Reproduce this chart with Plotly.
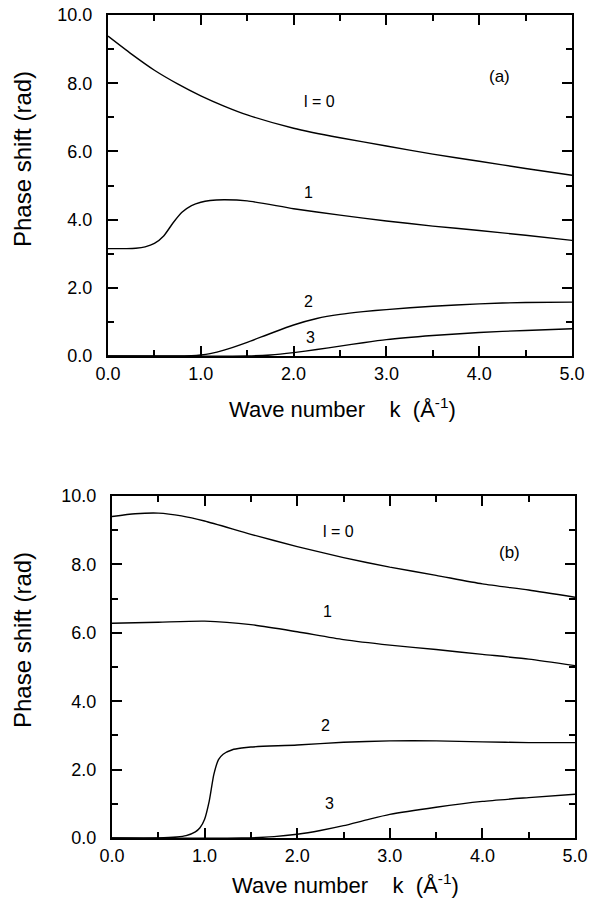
import plotly.graph_objects as go

# ---------------- data ----------------
# Panel (a)
a_l0_k = [0.0, 0.25, 0.5, 0.75, 1.0, 1.25, 1.5, 2.0, 2.5, 3.0, 3.5, 4.0, 4.5, 5.0]
a_l0_d = [9.38, 8.86, 8.38, 7.98, 7.63, 7.33, 7.07, 6.68, 6.40, 6.16, 5.92, 5.71, 5.50, 5.30]

a_l1_k = [0.0, 0.2, 0.3, 0.4, 0.5, 0.6, 0.7, 0.8, 0.9, 1.0, 1.1, 1.25, 1.5, 2.0, 2.5, 3.0, 3.5, 4.0, 4.5, 5.0]
a_l1_d = [3.15, 3.15, 3.16, 3.20, 3.30, 3.52, 3.90, 4.22, 4.41, 4.51, 4.56, 4.58, 4.55, 4.32, 4.13, 3.96, 3.81, 3.68, 3.54, 3.39]

a_l2_k = [0.0, 0.7, 0.9, 1.0, 1.1, 1.25, 1.5, 1.75, 2.0, 2.25, 2.5, 2.75, 3.0, 3.5, 4.0, 4.5, 5.0]
a_l2_d = [0.0, 0.0, 0.01, 0.03, 0.07, 0.17, 0.40, 0.66, 0.91, 1.10, 1.22, 1.30, 1.36, 1.46, 1.53, 1.57, 1.58]

a_l3_k = [0.0, 1.5, 1.75, 2.0, 2.25, 2.5, 2.75, 3.0, 3.5, 4.0, 4.5, 5.0]
a_l3_d = [0.0, 0.0, 0.03, 0.10, 0.19, 0.29, 0.39, 0.48, 0.60, 0.69, 0.75, 0.80]

# Panel (b)
b_l0_k = [0.0, 0.25, 0.5, 0.75, 1.0, 1.5, 2.0, 2.5, 3.0, 3.5, 4.0, 4.5, 5.0]
b_l0_d = [9.40, 9.48, 9.50, 9.42, 9.27, 8.88, 8.52, 8.20, 7.92, 7.68, 7.43, 7.25, 7.04]

b_l1_k = [0.0, 0.5, 1.0, 1.5, 2.0, 2.5, 3.0, 3.5, 4.0, 4.5, 5.0]
b_l1_d = [6.28, 6.31, 6.34, 6.24, 6.03, 5.80, 5.64, 5.51, 5.37, 5.23, 5.04]

b_l2_k = [0.0, 0.5, 0.7, 0.8, 0.9, 0.95, 1.0, 1.05, 1.1, 1.15, 1.2, 1.3, 1.4, 1.5, 2.0, 2.5, 3.0, 3.5, 4.0, 4.5, 5.0]
b_l2_d = [0.0, 0.0, 0.03, 0.07, 0.18, 0.30, 0.55, 1.08, 1.86, 2.29, 2.45, 2.58, 2.63, 2.66, 2.72, 2.80, 2.84, 2.84, 2.81, 2.79, 2.79]

b_l3_k = [0.0, 1.4, 1.75, 2.0, 2.25, 2.5, 2.75, 3.0, 3.5, 4.0, 4.5, 5.0]
b_l3_d = [0.0, 0.0, 0.04, 0.11, 0.22, 0.36, 0.53, 0.69, 0.90, 1.07, 1.18, 1.28]

# curve labels: (text, k, delta)
a_labels = [("l = 0", 2.28, 7.45), ("1", 2.16, 4.78), ("2", 2.16, 1.60), ("3", 2.18, 0.55), ("(a)", 4.22, 8.20)]
b_labels = [("l = 0", 2.45, 8.97), ("1", 2.33, 6.62), ("2", 2.31, 3.30), ("3", 2.35, 1.00), ("(b)", 4.29, 8.34)]

y_title = "Phase shift (rad)"
x_title = "Wave number\u00a0\u00a0\u00a0\u00a0k\u00a0\u00a0(Å<sup>-1</sup>)"

# ---------------- figure ----------------
W, H = 592, 901
FONT = "Liberation Sans, Arial, Helvetica, sans-serif"

fig = go.Figure()

for k, d in [(a_l0_k, a_l0_d), (a_l1_k, a_l1_d), (a_l2_k, a_l2_d), (a_l3_k, a_l3_d)]:
    fig.add_trace(go.Scatter(x=k, y=d, mode="lines",
                             line=dict(color="black", width=1.4, shape="spline", smoothing=0.6),
                             xaxis="x", yaxis="y", showlegend=False, hoverinfo="skip"))
for k, d in [(b_l0_k, b_l0_d), (b_l1_k, b_l1_d), (b_l2_k, b_l2_d), (b_l3_k, b_l3_d)]:
    fig.add_trace(go.Scatter(x=k, y=d, mode="lines",
                             line=dict(color="black", width=1.4, shape="spline", smoothing=0.6),
                             xaxis="x2", yaxis="y2", showlegend=False, hoverinfo="skip"))


def px_x(p):
    return p / W


def px_y(p):
    return 1 - p / H


def xaxis(domain, anchor):
    return dict(domain=domain, anchor=anchor, range=[0, 5], autorange=False,
                tickmode="linear", tick0=0, dtick=1, tickformat=".1f",
                ticks="inside", ticklen=10, tickwidth=1.5, tickcolor="#000000",
                showline=True, linecolor="#000000", linewidth=2, mirror="allticks",
                showgrid=False, zeroline=False, automargin=False,
                tickfont=dict(family=FONT, size=18, color="black"),
                minor=dict(ticks="inside", ticklen=6, dtick=0.5, tick0=0,
                           tickwidth=1.5, tickcolor="#000000", showgrid=False))


def yaxis(domain, anchor):
    return dict(domain=domain, anchor=anchor, range=[0, 10], autorange=False,
                tickmode="linear", tick0=0, dtick=2, tickformat=".1f",
                ticks="inside", ticklen=10, tickwidth=1.5, tickcolor="#000000",
                showline=True, linecolor="#000000", linewidth=2, mirror="allticks",
                showgrid=False, zeroline=False, automargin=False,
                ticksuffix="\u00a0\u00a0",
                tickfont=dict(family=FONT, size=18, color="black"),
                minor=dict(ticks="inside", ticklen=6, dtick=1, tick0=0,
                           tickwidth=1.5, tickcolor="#000000", showgrid=False))


fig.update_layout(
    template="none",
    width=W, height=H,
    margin=dict(l=0, r=0, t=0, b=0),
    paper_bgcolor="white", plot_bgcolor="white",
    font=dict(family=FONT, color="black"),
    xaxis=xaxis([px_x(108), px_x(572)], "y"),
    yaxis=yaxis([px_y(356), px_y(15)], "x"),
    xaxis2=xaxis([px_x(112), px_x(575)], "y2"),
    yaxis2=yaxis([px_y(838), px_y(496)], "x2"),
)

ann = []
for txt, kx, dy in a_labels:
    ann.append(dict(text=txt, x=kx, y=dy, xref="x", yref="y", showarrow=False,
                    font=dict(family=FONT, size=17 if txt.startswith("(") else 16, color="black")))
for txt, kx, dy in b_labels:
    ann.append(dict(text=txt, x=kx, y=dy, xref="x2", yref="y2", showarrow=False,
                    font=dict(family=FONT, size=17 if txt.startswith("(") else 16, color="black")))

# axis titles
for cy in (159, 640):
    ann.append(dict(text=y_title, x=px_x(22), y=px_y(cy), xref="paper", yref="paper",
                    showarrow=False, textangle=-90, xanchor="center", yanchor="middle",
                    font=dict(family=FONT, size=24, color="black")))
for cx, cy in ((342, 408), (345, 884)):
    ann.append(dict(text=x_title, x=px_x(cx), y=px_y(cy), xref="paper", yref="paper",
                    showarrow=False, xanchor="center", yanchor="middle",
                    font=dict(family=FONT, size=22, color="black")))

fig.update_layout(annotations=ann)

fig.write_html("out.html", config={"displayModeBar": False},
               post_script="document.body.style.margin='0px';document.body.style.overflow='hidden';")
